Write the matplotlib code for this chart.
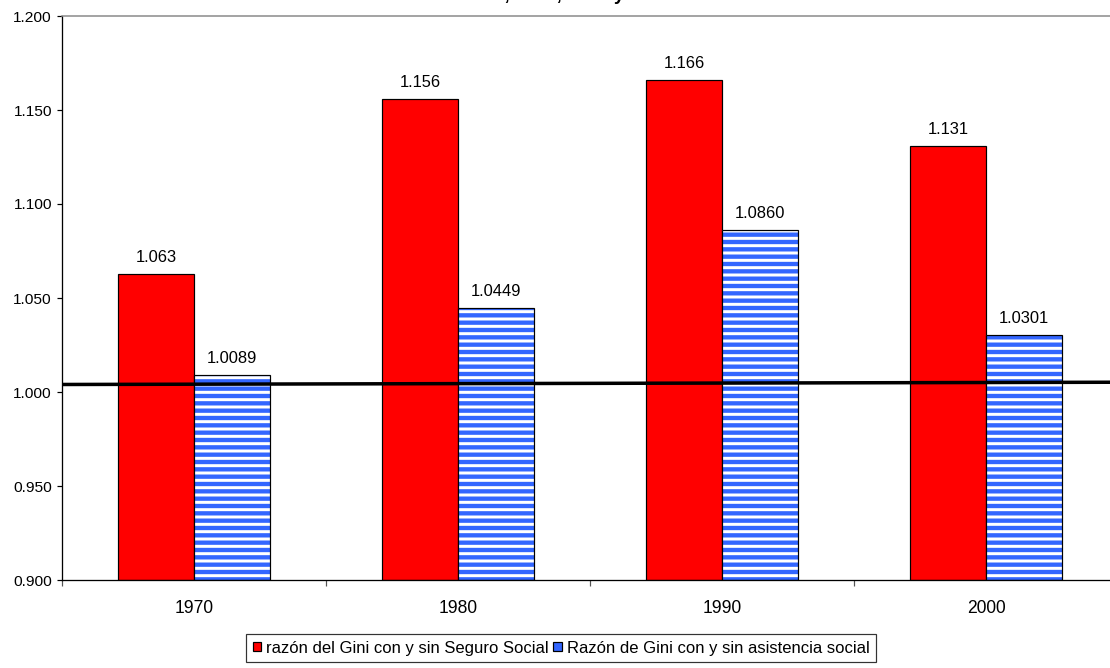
import matplotlib
matplotlib.use("Agg")
import matplotlib.pyplot as plt
import numpy as np

# Data
years = ["1970", "1980", "1990", "2000"]
seguro_social = [1.063, 1.156, 1.166, 1.131]
asistencia_social = [1.0089, 1.0449, 1.0860, 1.0301]
seguro_labels = ["1.063", "1.156", "1.166", "1.131"]
asistencia_labels = ["1.0089", "1.0449", "1.0860", "1.0301"]
reference_line = [1.0040, 1.0052]
y_ticks = [0.900, 0.950, 1.000, 1.050, 1.100, 1.150, 1.200]
title_text = "1970, 1980, 1990 y 2000"
legend_labels = ["razón del Gini con y sin Seguro Social",
                 "Razón de Gini con y sin asistencia social"]

DPI = 88
W, H = 1110, 668


def px(v):
    """pixels -> points at the figure dpi"""
    return v * 72.0 / DPI


plt.rcParams["font.family"] = ["Liberation Sans", "DejaVu Sans"]
plt.rcParams["hatch.linewidth"] = px(3.0)
plt.rcParams["hatch.color"] = "white"

fig = plt.figure(figsize=(W / DPI, H / DPI), dpi=DPI)
ax = fig.add_axes([62 / W, (H - 580) / H, (1118 - 62) / W, 564 / H])

x = np.arange(len(years))
bw = 0.288

red_bars = ax.bar(x - bw / 2, [v - 0.9 for v in seguro_social], bw, bottom=0.9,
                  color="#FF0000", edgecolor="black", linewidth=px(1.2), zorder=2)

# striped bars: blue fill with white horizontal hatch, black outline drawn on top
ax.bar(x + bw / 2, [v - 0.9 for v in asistencia_social], bw, bottom=0.9,
       facecolor="#3366FF", edgecolor="white", hatch="--", linewidth=0, zorder=2)
blue_bars = ax.bar(x + bw / 2, [v - 0.9 for v in asistencia_social], bw, bottom=0.9,
                   facecolor="none", edgecolor="black", linewidth=px(1.2), zorder=3)

for xi, v, lab in zip(x - bw / 2, seguro_social, seguro_labels):
    ax.annotate(lab, (xi, v), xytext=(0, px(9)), textcoords="offset points",
                ha="center", va="bottom", fontsize=px(16.5), color="black")
for xi, v, lab in zip(x + bw / 2, asistencia_social, asistencia_labels):
    ax.annotate(lab, (xi, v), xytext=(0, px(9)), textcoords="offset points",
                ha="center", va="bottom", fontsize=px(16.5), color="black")

ax.set_xlim(-0.5, len(years) - 0.5)
ax.set_ylim(0.9, 1.2)

# horizontal reference line across the plot
xl = ax.get_xlim()
ax.plot(xl, reference_line, color="black", linewidth=px(3.5), zorder=4,
        solid_capstyle="butt")

ax.set_yticks(y_ticks)
ax.set_yticklabels([f"{t:.3f}" for t in y_ticks])
ax.tick_params(axis="y", direction="out", length=px(5), width=px(1.2),
               labelsize=px(15.5), pad=px(5), colors="black")

ax.set_xticks(x)
ax.set_xticklabels(years)
ax.tick_params(axis="x", which="major", length=0, labelsize=px(17.5), pad=px(20))
ax.set_xticks(np.arange(len(years) + 1) - 0.5, minor=True)
ax.tick_params(axis="x", which="minor", direction="out", length=px(6),
               width=px(1.2), color="#555555")

for s in ("left", "bottom"):
    ax.spines[s].set_color("black")
    ax.spines[s].set_linewidth(px(1.3))
ax.spines["top"].set_color("#888888")
ax.spines["top"].set_linewidth(px(1.5))
ax.spines["right"].set_visible(False)

# title sits mostly above the canvas
fig.text(463 / W, 1.0 + 0.5 / H, title_text, ha="left", va="baseline",
         fontsize=px(18.7), fontweight="bold", color="black")

leg = fig.legend([red_bars[0], blue_bars[0]], legend_labels, ncol=2,
                 loc="center", bbox_to_anchor=((243 + 879) / 2 / W, (H - 648) / H),
                 fontsize=px(16.6), frameon=True, fancybox=False,
                 handlelength=0.5, handleheight=0.5, handletextpad=0.3,
                 columnspacing=0.3, borderpad=0.4, borderaxespad=0)
# legend swatches
handles = leg.legend_handles
handles[0].set_facecolor("#FF0000")
handles[0].set_edgecolor("black")
handles[1].set_facecolor("#3366FF")
handles[1].set_edgecolor("black")
handles[1].set_hatch("-")
leg.get_frame().set_edgecolor("black")
leg.get_frame().set_linewidth(px(1.2))

fig.savefig("out.png", dpi=DPI, facecolor="white")
